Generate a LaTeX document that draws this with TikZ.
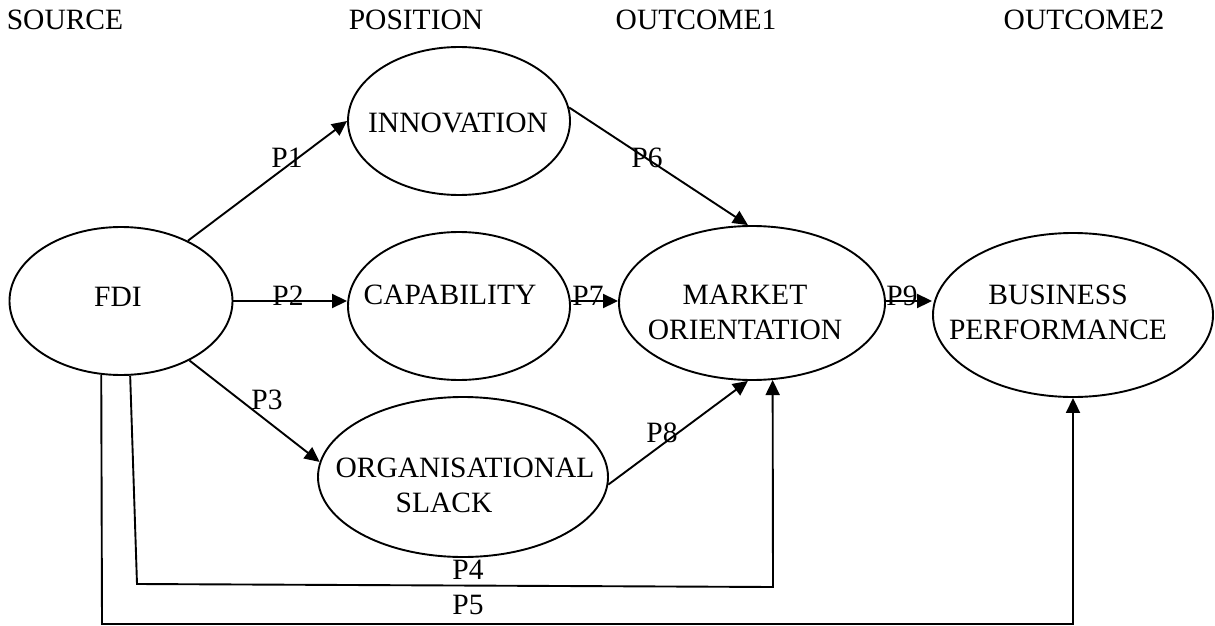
\documentclass[tikz,border=0pt]{standalone}
\usepackage{fontspec}
\setmainfont{Liberation Serif}
\usetikzlibrary{shapes.geometric,arrows.meta}

\begin{document}
\begin{tikzpicture}[x=0.5pt,y=-0.5pt,line width=0.95pt,
  txt/.style={inner sep=0pt,align=center,font=\fontsize{14.75}{17.5}\selectfont},
  construct/.style={ellipse,draw,inner sep=0pt},
  arrow/.style={-{Triangle[length=7.5pt,width=7pt]}}]
\useasboundingbox (0,0) rectangle (1215,626);

\node (source)   at (65,20)   [txt] {SOURCE};
\node (position) at (416,20)  [txt] {POSITION};
\node (outcome1) at (696,20)  [txt] {OUTCOME1};
\node (outcome2) at (1084,20) [txt] {OUTCOME2};

\node (fdi) at (121,301) [construct,minimum width=111.5pt,minimum height=74pt,
  label={[txt,shift={(-3,-4)}]center:FDI}] {};
\node (inn) at (459,121) [construct,minimum width=111pt,minimum height=74pt,
  label={[txt,shift={(-1,2)}]center:INNOVATION}] {};
\node (cap) at (459,306) [construct,minimum width=111pt,minimum height=74pt,
  label={[txt,shift={(-9,-11)}]center:CAPABILITY}] {};
\node (org) at (463,477) [construct,minimum width=145pt,minimum height=80pt,
  label={[txt,shift={(2,8)}]center:ORGANISATIONAL\\SLACK\kern21pt}] {};
\node (mo) at (752,303) [construct,minimum width=133pt,minimum height=77pt,
  label={[txt,shift={(-7,9)}]center:MARKET\\ORIENTATION}] {};
\node (bp) at (1073,315) [construct,minimum width=140pt,minimum height=82pt,
  label={[txt,shift={(-15,-3)}]center:BUSINESS\\PERFORMANCE}] {};

\coordinate (p4a) at (137,584);
\coordinate (p4b) at (773,587);
\coordinate (p5a) at (102,624);
\coordinate (p5b) at (1073,624);

\draw[arrow] (fdi.42) -- (inn.west);
\draw[arrow] (fdi.east) -- (fdi.east -| cap.west);
\draw[arrow] (fdi.-41) -- (org.174);
\draw[arrow] (fdi.-83) -- (p4a) -- (p4b) -- (mo.-75);
\draw[arrow] (fdi.-105) -- (p5a) -- (p5b) -- (bp.south);
\draw[arrow] (inn.7) -- (mo.93);
\draw[arrow] (cap.east |- fdi.east) -- (mo.west |- fdi.east);
\draw[arrow] (org.-3) -- (mo.-93);
\draw[arrow] (mo.east |- fdi.east) -- (bp.west |- fdi.east);

\node (p1) at (287,158) [txt] {P1};
\node (p2) at (288,296) [txt] {P2};
\node (p3) at (267,400) [txt] {P3};
\node (p4) at (468,570) [txt] {P4};
\node (p5) at (468,605) [txt] {P5};
\node (p6) at (647,158) [txt] {P6};
\node (p7) at (588,296) [txt] {P7};
\node (p8) at (662,433) [txt] {P8};
\node (p9) at (902,296) [txt] {P9};
\end{tikzpicture}
\end{document}
